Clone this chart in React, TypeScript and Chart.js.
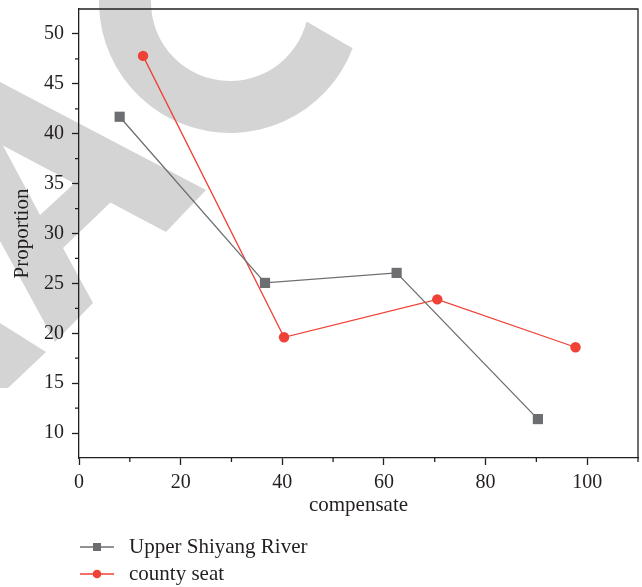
import React, { useEffect, useRef } from "react";
import { Chart, registerables } from "chart.js";

Chart.register(...registerables);

const seriesNames = ["Upper Shiyang River", "county seat"];
const upperX = [8.0, 36.6, 62.5, 90.3];
const upperY = [41.7, 25.05, 26.05, 11.4];
const countyX = [12.6, 40.35, 70.5, 97.7];
const countyY = [47.8, 19.6, 23.4, 18.6];
const xTicks = [0, 20, 40, 60, 80, 100];
const xMinorTicks = [10, 30, 50, 70, 90, 110];
const yTicks = [10, 15, 20, 25, 30, 35, 40, 45, 50];
const yMinorTicks = [12.5, 17.5, 22.5, 27.5, 32.5, 37.5, 42.5, 47.5];
const xTitle = "compensate";
const yTitle = "Proportion";

const GREY = "#6d6e71";
const RED = "#ef4136";
const INK = "#231f20";
const FONT = "'Liberation Serif', 'DejaVu Serif', serif";

const decorPlugin = {
  id: "decor",
  beforeDraw(chart: any) {
    const ctx = chart.ctx;
    ctx.save();
    ctx.fillStyle = "#d4d4d4";
    const cx = 230, cy = 2, ro = 131, ri = 79;
    ctx.beginPath();
    ctx.arc(cx, cy, ro, 0.36, Math.PI + 0.6, false);
    ctx.arc(cx, cy, ri, Math.PI + 0.6, 0.25, true);
    ctx.closePath();
    ctx.fill();
    ctx.beginPath();
    ctx.moveTo(0, 82);
    ctx.lineTo(206, 190);
    ctx.lineTo(166, 232);
    ctx.lineTo(0, 144);
    ctx.closePath();
    ctx.fill();
    ctx.beginPath();
    ctx.moveTo(0, 140);
    ctx.lineTo(40, 215);
    ctx.lineTo(78, 180);
    ctx.lineTo(111, 202);
    ctx.lineTo(63, 248);
    ctx.lineTo(93, 303);
    ctx.lineTo(55, 342);
    ctx.lineTo(0, 241);
    ctx.closePath();
    ctx.fill();
    ctx.beginPath();
    ctx.moveTo(0, 323);
    ctx.lineTo(46, 352);
    ctx.lineTo(8, 388);
    ctx.lineTo(0, 388);
    ctx.closePath();
    ctx.fill();
    ctx.restore();
  },
  afterDraw(chart: any) {
    const ctx = chart.ctx;
    const a = chart.chartArea;
    const xs = chart.scales.x;
    const ys = chart.scales.y;
    ctx.save();
    ctx.strokeStyle = INK;
    ctx.lineWidth = 1.3;
    ctx.beginPath();
    ctx.moveTo(a.left, a.top);
    ctx.lineTo(a.right, a.top);
    ctx.lineTo(a.right, a.bottom);
    ctx.stroke();
    ctx.beginPath();
    for (const v of xMinorTicks) {
      const px = xs.getPixelForValue(v);
      ctx.moveTo(px, a.bottom);
      ctx.lineTo(px, a.bottom + 4);
    }
    for (const v of yMinorTicks) {
      const py = ys.getPixelForValue(v);
      ctx.moveTo(a.left, py);
      ctx.lineTo(a.left - 4, py);
    }
    ctx.stroke();
    const items = [
      { name: seriesNames[0], color: GREY, shape: "rect", y: 547 },
      { name: seriesNames[1], color: RED, shape: "circle", y: 574 },
    ];
    ctx.font = "21px " + FONT;
    ctx.textBaseline = "middle";
    ctx.textAlign = "left";
    for (const it of items) {
      ctx.strokeStyle = it.color;
      ctx.lineWidth = 1.3;
      ctx.beginPath();
      ctx.moveTo(80, it.y);
      ctx.lineTo(114, it.y);
      ctx.stroke();
      ctx.fillStyle = it.color;
      if (it.shape === "rect") {
        ctx.fillRect(93, it.y - 4, 8, 8);
      } else {
        ctx.beginPath();
        ctx.arc(97, it.y, 4.3, 0, Math.PI * 2);
        ctx.fill();
      }
      ctx.fillStyle = INK;
      ctx.fillText(it.name, 129, it.y);
    }
    ctx.restore();
  },
};

export default function App() {
  const ref = useRef<HTMLCanvasElement | null>(null);
  useEffect(() => {
    if (!ref.current) return;
    const chart = new Chart(ref.current, {
      type: "line",
      data: {
        datasets: [
          {
            label: seriesNames[0],
            data: upperX.map((x, i) => ({ x, y: upperY[i] })),
            borderColor: GREY,
            backgroundColor: GREY,
            borderWidth: 1.3,
            pointStyle: "rect",
            pointRadius: 7.2,
            pointBorderWidth: 0,
            pointBackgroundColor: GREY,
            tension: 0,
          },
          {
            label: seriesNames[1],
            data: countyX.map((x, i) => ({ x, y: countyY[i] })),
            borderColor: RED,
            backgroundColor: RED,
            borderWidth: 1.3,
            pointStyle: "circle",
            pointRadius: 5.2,
            pointBorderWidth: 0,
            pointBackgroundColor: RED,
            tension: 0,
          },
        ],
      },
      plugins: [decorPlugin],
      options: {
        animation: false,
        responsive: false,
        maintainAspectRatio: false,
        devicePixelRatio: 1,
        layout: { autoPadding: false, padding: { top: 9, right: 4, bottom: 69, left: 0 } },
        plugins: { legend: { display: false }, tooltip: { enabled: false } },
        scales: {
          x: {
            type: "linear",
            min: 0,
            max: 110,
            afterBuildTicks: (s: any) => {
              s.ticks = xTicks.map((v) => ({ value: v }));
            },
            afterFit: (s: any) => {
              s.height = 60;
              s.paddingLeft = 0;
              s.paddingRight = 0;
            },
            grid: {
              drawOnChartArea: false,
              drawTicks: true,
              tickLength: 7,
              tickColor: INK,
              tickWidth: 1.3,
            },
            border: { display: true, color: INK, width: 1.3 },
            ticks: {
              color: INK,
              font: { family: FONT, size: 20 },
              padding: 6,
              maxRotation: 0,
            },
            title: {
              display: true,
              text: xTitle,
              color: INK,
              font: { family: FONT, size: 21 },
              padding: { top: 0, bottom: 0 },
            },
          },
          y: {
            type: "linear",
            min: 7.5,
            max: 52.5,
            afterBuildTicks: (s: any) => {
              s.ticks = yTicks.map((v) => ({ value: v }));
            },
            afterFit: (s: any) => {
              s.width = 79;
              s.paddingTop = 0;
              s.paddingBottom = 0;
            },
            grid: {
              drawOnChartArea: false,
              drawTicks: true,
              tickLength: 7,
              tickColor: INK,
              tickWidth: 1.3,
            },
            border: { display: true, color: INK, width: 1.3 },
            ticks: {
              color: INK,
              font: { family: FONT, size: 20 },
              padding: 8,
            },
            title: {
              display: true,
              text: yTitle,
              color: INK,
              font: { family: FONT, size: 21 },
              padding: { top: 10, bottom: 0 },
            },
          },
        },
      },
    });
    return () => chart.destroy();
  }, []);
  return (
    <div style={{ position: "fixed", left: 0, top: 0, width: 642, height: 587, background: "#fff" }}>
      <canvas ref={ref} width={642} height={587} style={{ display: "block", width: 642, height: 587 }} />
    </div>
  );
}
